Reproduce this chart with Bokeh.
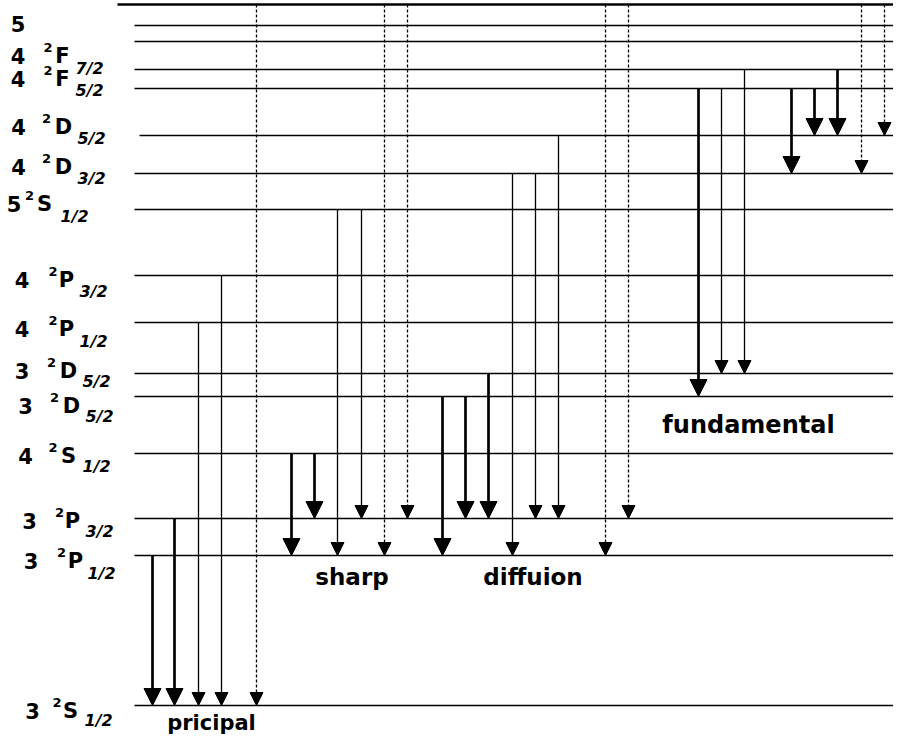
from bokeh.plotting import figure
from bokeh.models import Range1d, ColumnDataSource, Arrow, NormalHead
from bokeh.core.properties import value
from bokeh.embed import file_html
from bokeh.resources import INLINE

# ------------------------------------------------------------------ data
# Energy levels (arbitrary energy units, ground state 3 2S1/2 = 0)
level_energy = [701, 680, 664, 636, 617, 570, 532, 496, 430, 383, 332, 309, 252, 187, 150, 0]

# Term labels written at the left
label_n    = ["5", "4",   "4",   "4",   "4",   "5",   "4",   "4",   "3",   "3",   "4",   "3",   "3",   "3"]
label_mult = ["",  "2",   "2",   "2",   "2",   "2",   "2",   "2",   "2",   "2",   "2",   "2",   "2",   "2"]
label_term = ["",  "F",   "F",   "D",   "D",   "S",   "P",   "P",   "D",   "D",   "S",   "P",   "P",   "S"]
label_j    = ["",  "7/2", "5/2", "5/2", "3/2", "1/2", "3/2", "1/2", "5/2", "5/2", "1/2", "3/2", "1/2", "1/2"]

# Transitions: index of upper and lower level, and line kind
series_names = ["pricipal", "sharp", "diffuion", "fundamental"]
trans_upper = [14, 13, 9, 8, 0,
               12, 12, 7, 7, 0, 0,
               11, 11, 10, 6, 6, 5, 0, 0,
               4, 4, 3, 4, 4, 3, 0, 0]
trans_lower = [15, 15, 15, 15, 15,
               14, 13, 14, 13, 14, 13,
               14, 13, 13, 14, 13, 13, 14, 13,
               11, 10, 10, 6, 5, 5, 6, 5]
trans_kind = ["strong", "strong", "weak", "weak", "dashed",
              "strong", "strong", "weak", "weak", "dashed", "dashed",
              "strong", "strong", "strong", "weak", "weak", "weak", "dashed", "dashed",
              "strong", "weak", "weak", "strong", "strong", "strong", "dashed", "dashed"]

# ------------------------------------------------------------------ layout
ZERO_PX = 712          # pixel row of the ground level
W, H = 893, 735
SHIFT = 7              # view shifted up a little so the bottom caption fits


def at(px):
    """layout helper: pixel row -> energy coordinate"""
    return ZERO_PX - px


level_x0 = [117, 134, 134, 134, 134, 139, 134, 134, 134, 134, 134, 134, 134, 134, 134, 134]
level_x1 = [908, 908, 908, 908, 908, 908, 908, 902, 908, 908, 908, 908, 908, 908, 908, 908]
level_w = [2.6] + [1.6] * 15

arrow_x = [152, 174, 198, 221, 256,
           291, 314, 337, 361, 384, 407,
           442, 465, 488, 512, 535, 558, 605, 628,
           698, 721, 744, 791, 814, 837, 861, 884]

digit_cx = [17.5, 17.5, 17.5, 18, 18, 13.5, 21.5, 21.5, 21.5, 25, 25, 29, 30.5, 32]
digit_by = [30, 62, 85, 133, 173, 210, 286, 335, 377, 412, 462, 527, 567, 717]
sup_cx = [0, 47.5, 47.5, 46, 46, 29, 52.5, 52.5, 51, 54, 52.5, 59, 61, 56.5]
term_cx = [0, 62, 62, 63, 63, 44, 66, 66, 68, 71, 68, 72, 75, 70]
sub_lx = [0, 75, 75, 77, 77, 60, 79, 79, 82, 85, 82, 85, 87, 84]
sub_by = [0, 75, 97, 145, 185, 223, 298, 348, 388, 423, 473, 538, 580, 727]

series_cx = [211, 351.5, 532.5, 748]
series_by = [729, 583, 583, 431]
series_fs = ["21px", "23px", "23px", "24px"]

FONT = value("DejaVu Sans")

p = figure(width=W, height=H, output_backend="svg", toolbar_location=None,
           x_range=Range1d(0, W), y_range=Range1d(at(H + SHIFT), at(SHIFT)),
           x_axis_location=None, y_axis_location=None, min_border=0,
           background_fill_color="white", border_fill_color="white")
p.grid.visible = False
p.outline_line_color = None

# energy levels
p.segment(x0=level_x0, x1=level_x1, y0=level_energy, y1=level_energy,
          line_color="black", line_width=level_w)

# transitions
styles = {
    "strong": dict(line_width=2.7, line_dash="solid", head=17),
    "weak": dict(line_width=1.3, line_dash="solid", head=13),
    "dashed": dict(line_width=1.3, line_dash="3 2", head=13),
}
for kind, st in styles.items():
    idx = [i for i, k in enumerate(trans_kind) if k == kind]
    src = ColumnDataSource(dict(
        x=[arrow_x[i] for i in idx],
        y0=[level_energy[trans_upper[i]] for i in idx],
        y1=[level_energy[trans_lower[i]] for i in idx],
    ))
    p.add_layout(Arrow(end=NormalHead(size=st["head"], fill_color="black",
                                      line_color="black", line_width=1),
                       x_start="x", y_start="y0", x_end="x", y_end="y1",
                       source=src, line_color="black",
                       line_width=st["line_width"], line_dash=st["line_dash"]))

# level labels
p.text(x=digit_cx, y=[at(v) for v in digit_by], text=label_n,
       text_font=FONT, text_font_style="bold", text_font_size="21px",
       text_align="center", text_baseline="alphabetic", text_color="black")
rows = [i for i in range(len(label_term)) if label_term[i]]
p.text(x=[sup_cx[i] for i in rows], y=[at(digit_by[i] - 8) for i in rows],
       text=[label_mult[i] for i in rows],
       text_font=FONT, text_font_style="bold", text_font_size="13px",
       text_align="center", text_baseline="alphabetic", text_color="black")
p.text(x=[term_cx[i] for i in rows], y=[at(digit_by[i]) for i in rows],
       text=[label_term[i] for i in rows],
       text_font=FONT, text_font_style="bold", text_font_size="21px",
       text_align="center", text_baseline="alphabetic", text_color="black")
p.text(x=[sub_lx[i] for i in rows], y=[at(sub_by[i]) for i in rows],
       text=[label_j[i] for i in rows],
       text_font=FONT, text_font_style="bold italic", text_font_size="16px",
       text_align="left", text_baseline="alphabetic", text_color="black")

# series names
for name, cx, by, fs in zip(series_names, series_cx, series_by, series_fs):
    p.text(x=[cx], y=[at(by)], text=[name],
           text_font=FONT, text_font_style="bold", text_font_size=fs,
           text_align="center", text_baseline="alphabetic", text_color="black")

open("out.html", "w").write(file_html(p, INLINE))
